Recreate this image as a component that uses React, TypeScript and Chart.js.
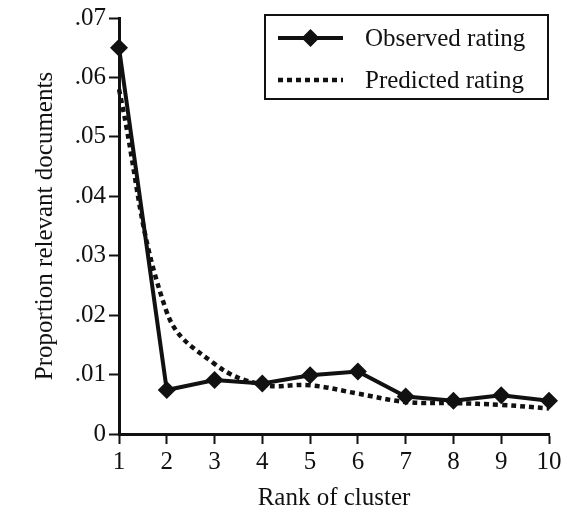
import React, { useEffect, useRef } from "react";
import { Chart, registerables } from "chart.js";

Chart.register(...registerables);

const ranks = ["1", "2", "3", "4", "5", "6", "7", "8", "9", "10"];
const observed = [0.065, 0.0074, 0.0091, 0.0085, 0.0099, 0.0105, 0.0063, 0.0056, 0.0065, 0.0056];
const predicted = [0.058, 0.0205, 0.0118, 0.0083, 0.0082, 0.0068, 0.0054, 0.0052, 0.0049, 0.0043];
const yTicks = [0, 0.01, 0.02, 0.03, 0.04, 0.05, 0.06, 0.07];
const yTickLabels = ["0", ".01", ".02", ".03", ".04", ".05", ".06", ".07"];
const xTitle = "Rank of cluster";
const yTitle = "Proportion relevant documents";
const seriesNames = ["Observed rating", "Predicted rating"];

const FONT = "'Liberation Serif', 'Times New Roman', serif";
const INK = "#111";

const legendPlugin = {
  id: "boxLegend",
  afterDraw(chart: any) {
    const ctx = chart.ctx;
    const area = chart.chartArea;
    const right = area.right - 1;
    const left = right - 283;
    const top = 15;
    const h = 84;
    ctx.save();
    ctx.fillStyle = "#fff";
    ctx.fillRect(left, top, right - left, h);
    ctx.strokeStyle = INK;
    ctx.lineWidth = 2;
    ctx.strokeRect(left, top, right - left, h);
    chart.data.datasets.forEach((ds: any, i: number) => {
      const cy = top + 23 + i * 42;
      const x0 = left + 13;
      const x1 = left + 78;
      ctx.beginPath();
      ctx.strokeStyle = INK;
      ctx.lineWidth = ds.borderWidth;
      ctx.setLineDash(ds.borderDash || []);
      ctx.moveTo(x0, cy);
      ctx.lineTo(x1, cy);
      ctx.stroke();
      ctx.setLineDash([]);
      if (ds.pointRadius > 0) {
        const r = ds.pointRadius;
        const cx = (x0 + x1) / 2;
        ctx.beginPath();
        ctx.moveTo(cx, cy - r);
        ctx.lineTo(cx + r, cy);
        ctx.lineTo(cx, cy + r);
        ctx.lineTo(cx - r, cy);
        ctx.closePath();
        ctx.fillStyle = INK;
        ctx.fill();
      }
      ctx.fillStyle = INK;
      ctx.font = `25px ${FONT}`;
      ctx.textBaseline = "middle";
      ctx.textAlign = "left";
      ctx.fillText(ds.label, left + 100, cy + 1);
    });
    ctx.restore();
  },
};

export default function App() {
  const ref = useRef<HTMLCanvasElement | null>(null);
  useEffect(() => {
    if (!ref.current) return;
    const chart = new Chart(ref.current, {
      type: "line",
      data: {
        labels: ranks,
        datasets: [
          {
            label: seriesNames[0],
            data: observed,
            borderColor: INK,
            backgroundColor: INK,
            borderWidth: 4,
            pointStyle: "rectRot",
            pointRadius: 9,
            pointBackgroundColor: INK,
            pointBorderColor: INK,
            pointBorderWidth: 0,
            tension: 0,
          },
          {
            label: seriesNames[1],
            data: predicted,
            borderColor: INK,
            backgroundColor: INK,
            borderWidth: 4.5,
            borderDash: [5, 4],
            pointRadius: 0,
            tension: 0.4,
          },
        ],
      },
      options: {
        animation: false,
        responsive: true,
        maintainAspectRatio: false,
        layout: { padding: { left: 26, right: 18, top: 18, bottom: 0 } },
        plugins: {
          legend: { display: false },
          tooltip: { enabled: false },
        },
        scales: {
          x: {
            type: "category",
            offset: false,
            afterFit: (s: any) => {
              s.height = 80;
            },
            grid: {
              drawOnChartArea: false,
              drawTicks: true,
              tickLength: 10,
              tickWidth: 2,
              tickColor: INK,
            },
            border: { display: true, color: INK, width: 3 },
            ticks: {
              color: INK,
              font: { family: FONT, size: 25 },
              padding: 3,
              maxRotation: 0,
              autoSkip: false,
            },
            title: {
              display: true,
              text: xTitle,
              color: INK,
              font: { family: FONT, size: 25 },
              padding: { top: 0, bottom: 1 },
            },
          },
          y: {
            min: 0,
            max: 0.07,
            afterFit: (s: any) => {
              s.width = 93;
            },
            afterBuildTicks: (s: any) => {
              s.ticks = yTicks.map((v) => ({ value: v }));
            },
            grid: {
              drawOnChartArea: false,
              drawTicks: true,
              tickLength: 10,
              tickWidth: 2,
              tickColor: INK,
            },
            border: { display: true, color: INK, width: 3 },
            ticks: {
              color: INK,
              font: { family: FONT, size: 25 },
              padding: 3,
              callback: (v: any) => {
                const i = yTicks.findIndex((t) => Math.abs(t - Number(v)) < 1e-9);
                return i >= 0 ? yTickLabels[i] : "";
              },
            },
            title: {
              display: true,
              text: yTitle,
              color: INK,
              font: { family: FONT, size: 25 },
              padding: { top: 4, bottom: 0 },
            },
          },
        },
      },
      plugins: [legendPlugin],
    });
    return () => chart.destroy();
  }, []);
  return (
    <div style={{ position: "absolute", left: 0, top: 0, width: 567, height: 514, background: "#fff" }}>
      <canvas ref={ref} />
    </div>
  );
}
